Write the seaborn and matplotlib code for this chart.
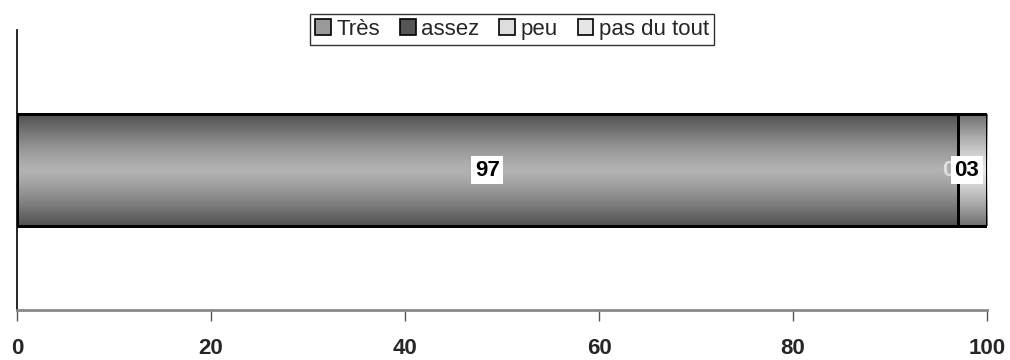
import numpy as np
import pandas as pd
import matplotlib
matplotlib.use("Agg")
import matplotlib.pyplot as plt
from matplotlib.patches import Patch
import seaborn as sns

# Response shares for a single question (percent)
categories = ["Très", "assez", "peu", "pas du tout"]
values = [97, 0, 3, 0]
tick_values = [0, 20, 40, 60, 80, 100]

# colour pairs (edge of bar, centre of bar) for the vertical shading
shades = {
    "Très": ("#4f4f4f", "#b2b2b2"),
    "assez": ("#333333", "#7a7a7a"),
    "peu": ("#6e6e6e", "#e8e8e8"),
    "pas du tout": ("#8a8a8a", "#f0f0f0"),
}
legend_colors = {"Très": "#9a9a9a", "assez": "#555555", "peu": "#dddddd", "pas du tout": "#e6e6e6"}

sns.set_theme(style="white")
plt.rcParams["font.family"] = ["Liberation Sans", "DejaVu Sans"]

fig = plt.figure(figsize=(10.10, 3.60), dpi=100)
ax = fig.add_axes([17 / 1010, 50 / 360, 970 / 1010, 280 / 360])

cum = np.cumsum(values)
df = pd.DataFrame({"cat": categories, "value": values, "cum": cum, "row": ["q"] * len(values)})

# stacked bar: draw cumulative totals from the widest down so each segment shows
bars = []
for i in range(len(categories) - 1, -1, -1):
    n_before = len(ax.patches)
    sns.barplot(x=[df["cum"][i]], y=["q"], orient="h", width=0.4,
                color=legend_colors[categories[i]], ax=ax)
    bars.append((categories[i], ax.patches[n_before:], len(categories) - i))

ax.set_xlim(0, 100)
ax.set_ylim(0.5, -0.5)

# vertical gradient fill for each segment, edges redrawn on top
grad = np.abs(np.linspace(-1, 1, 256)) ** 1.3
for cat, patches, order in bars:
    dark, light = shades[cat]
    c0 = np.array(matplotlib.colors.to_rgb(light))
    c1 = np.array(matplotlib.colors.to_rgb(dark))
    img = (c0[None, :] * (1 - grad[:, None]) + c1[None, :] * grad[:, None])[:, None, :]
    for p in patches:
        x0, y0 = p.get_x(), p.get_y()
        w, h = p.get_width(), p.get_height()
        if w <= 0:
            continue
        im = ax.imshow(img, extent=[x0, x0 + w, y0 + h, y0], aspect="auto",
                       zorder=1 + order * 0.1, interpolation="bilinear")
        im.set_clip_path(p)
        p.set_facecolor("none")
        p.set_edgecolor("black")
        p.set_linewidth(2)
        p.set_zorder(3)

ax.set_xlim(0, 100)
ax.set_ylim(0.5, -0.5)

# value labels
start = cum - np.array(values)
lab_kw = dict(ha="center", va="center", fontsize=16, fontweight="bold", zorder=5)
ax.text(start[1] + values[1] / 2 - 1.0, 0, f"{values[1]}", color="#e0e0e0", **lab_kw)
ax.text(start[0] + values[0] / 2, 0, f"{values[0]}", color="black",
        bbox=dict(facecolor="white", edgecolor="none", pad=2.5), **lab_kw)
ax.text(start[2] + values[2] / 2 - 0.6, 0, f"{values[2]:02d}", color="black",
        bbox=dict(facecolor="white", edgecolor="none", pad=2.5), **lab_kw)

# axes styling
ax.set_xticks(tick_values)
ax.set_xticklabels([str(t) for t in tick_values], fontsize=16, fontweight="bold")
ax.set_yticks([])
ax.set_xlabel("")
ax.set_ylabel("")
for s in ["top", "right"]:
    ax.spines[s].set_visible(False)
ax.spines["left"].set_color("black")
ax.spines["left"].set_linewidth(1.2)
ax.spines["bottom"].set_color("#8a8a8a")
ax.spines["bottom"].set_linewidth(2)
ax.tick_params(axis="x", which="major", direction="out", length=8, width=1,
               color="#555555", pad=12, bottom=True)

handles = [Patch(facecolor=legend_colors[c], edgecolor="black", linewidth=1.2) for c in categories]
leg = fig.legend(handles, categories, loc="upper center", bbox_to_anchor=(512 / 1010, 1 - 14 / 360),
                 ncol=4, frameon=True, fancybox=False, fontsize=16, handlelength=0.7,
                 handleheight=0.7, handletextpad=0.25, columnspacing=0.9,
                 borderpad=0.22, borderaxespad=0)
leg.get_frame().set_edgecolor("black")
leg.get_frame().set_linewidth(1)

fig.savefig("out.png", dpi=100)
